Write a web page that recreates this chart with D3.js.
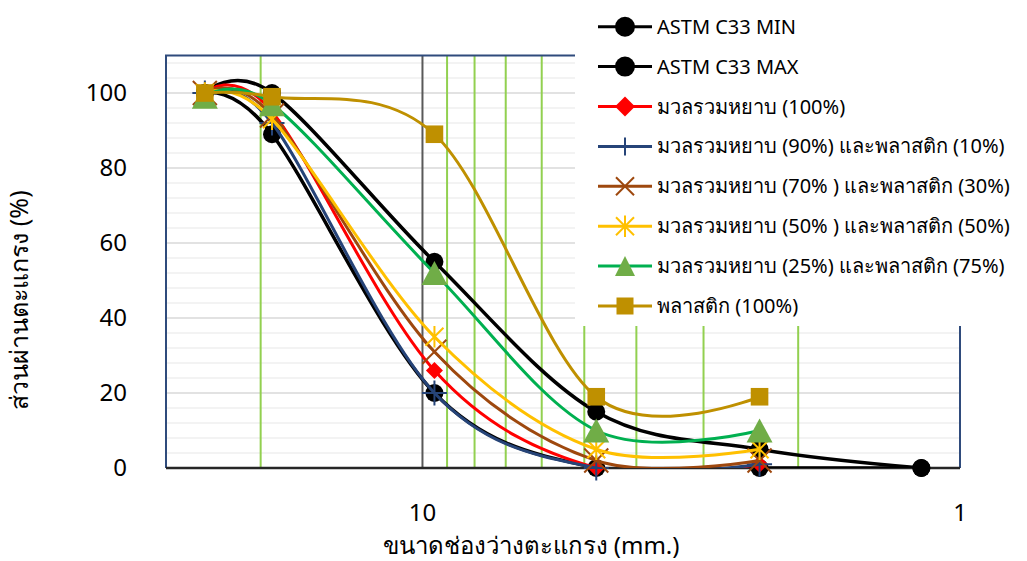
<!DOCTYPE html>
<html>
<head>
<meta charset="utf-8">
<script src="https://cdn.jsdelivr.net/npm/d3@7"></script>
<style>
  html, body { margin: 0; padding: 0; background: #fff; }
  svg { display: block; font-family: "Noto Sans", "DejaVu Sans", sans-serif; }
</style>
</head>
<body>
<svg id="chart" width="1027" height="561"></svg>
<script>
// Sieve openings (mm) and percent passing for each grading curve
const sieveSizes = [25.4, 19.05, 9.5, 4.75, 2.36, 1.18];
const seriesNames = [
  "ASTM C33 MIN",
  "ASTM C33 MAX",
  "มวลรวมหยาบ (100%)",
  "มวลรวมหยาบ (90%) และพลาสติก (10%)",
  "มวลรวมหยาบ (70% ) และพลาสติก (30%)",
  "มวลรวมหยาบ (50% ) และพลาสติก (50%)",
  "มวลรวมหยาบ (25%) และพลาสติก (75%)",
  "พลาสติก (100%)"
];
const astmMin    = [100, 89, 20, 0, 0, 0];
const astmMax    = [100, 100, 55, 15, 5, 0];
const coarse100  = [100, 95, 26, 0, 1];
const coarse90   = [100, 92, 20, 0, 1];
const coarse70   = [100, 94, 31, 2, 2];
const coarse50   = [100, 93, 35, 5, 5];
const coarse25   = [99, 97, 52, 10, 10];
const plastic100 = [100, 99, 89, 19, 19];

const yTickLabels = [0, 20, 40, 60, 80, 100];
const xTickLabels = [10, 1];
const xMinorGrid = [20, 9, 8, 7, 6, 5, 4, 3, 2];
const xMajorGrid = [10];

const seriesValues = [astmMin, astmMax, coarse100, coarse90, coarse70, coarse50, coarse25, plastic100];
const styles = [
  { line: "#000000", fill: "#000000", marker: "circle",   width: 3.5 },
  { line: "#000000", fill: "#000000", marker: "circle",   width: 3.5 },
  { line: "#FF0000", fill: "#FF0000", marker: "diamond",  width: 3 },
  { line: "#264478", fill: "#264478", marker: "plus",     width: 3 },
  { line: "#9E480E", fill: "#9E480E", marker: "x",        width: 3 },
  { line: "#FFC000", fill: "#FFC000", marker: "star",     width: 3 },
  { line: "#00B050", fill: "#70AD47", marker: "triangle", width: 3 },
  { line: "#BF9000", fill: "#BF9000", marker: "square",   width: 3 }
];

const svg = d3.select("#chart");
svg.append("rect").attr("width", 1027).attr("height", 561).attr("fill", "#fff");

const plotLeft = 166, plotRight = 960, plotBottom = 468;
const x = d3.scaleLog().domain([30, 1]).range([plotLeft, plotRight]);
const y = d3.scaleLinear().domain([0, 110]).range([plotBottom, 55.5]);
const plotTop = y(110);

// lines are clipped to the plot area, markers are not
svg.append("defs").append("clipPath").attr("id", "plotClip")
  .append("rect").attr("x", plotLeft).attr("y", plotTop)
  .attr("width", plotRight - plotLeft).attr("height", plotBottom - plotTop);

// horizontal grid: minor every 4, major every 20
const g = svg.append("g");
g.selectAll("line.hmin").data(d3.range(4, 110, 4).filter(v => v % 20 !== 0)).join("line")
  .attr("x1", plotLeft).attr("x2", plotRight).attr("y1", d => y(d)).attr("y2", d => y(d))
  .attr("stroke", "#EFEFEF").attr("stroke-width", 1.5);
g.selectAll("line.hmaj").data(d3.range(20, 110, 20)).join("line")
  .attr("x1", plotLeft).attr("x2", plotRight).attr("y1", d => y(d)).attr("y2", d => y(d))
  .attr("stroke", "#D9D9D9").attr("stroke-width", 1.5);

// vertical grid on the log axis
g.selectAll("line.vmin").data(xMinorGrid).join("line")
  .attr("x1", d => x(d)).attr("x2", d => x(d)).attr("y1", plotTop).attr("y2", plotBottom)
  .attr("stroke", "#92D050").attr("stroke-width", 2);
g.selectAll("line.vmaj").data(xMajorGrid).join("line")
  .attr("x1", d => x(d)).attr("x2", d => x(d)).attr("y1", plotTop).attr("y2", plotBottom)
  .attr("stroke", "#595959").attr("stroke-width", 2);

// plot frame
svg.append("path")
  .attr("d", `M${plotLeft},${plotBottom}V${plotTop}H${plotRight}V${plotBottom}`)
  .attr("fill", "none").attr("stroke", "#2F4B7C").attr("stroke-width", 2);
svg.append("line").attr("x1", plotLeft).attr("x2", plotRight).attr("y1", plotBottom).attr("y2", plotBottom)
  .attr("stroke", "#262626").attr("stroke-width", 2.5);

// axis labels
svg.append("g").selectAll("text").data(yTickLabels).join("text")
  .attr("x", 127).attr("y", d => y(d)).attr("dy", "0.35em")
  .attr("text-anchor", "end").attr("font-size", 24).attr("fill", "#000")
  .text(d => d);
svg.append("g").selectAll("text").data(xTickLabels).join("text")
  .attr("x", d => x(d)).attr("y", 513).attr("dy", "0.35em")
  .attr("text-anchor", "middle").attr("font-size", 24).attr("fill", "#000")
  .text(d => d);
svg.append("text").attr("x", 531).attr("y", 546).attr("dy", "0.35em")
  .attr("text-anchor", "middle").attr("font-size", 24).attr("fill", "#000")
  .text("ขนาดช่องว่างตะแกรง (mm.)");
svg.append("text").attr("transform", "translate(19,300) rotate(-90)").attr("dy", "0.35em")
  .attr("text-anchor", "middle").attr("font-size", 25).attr("fill", "#000")
  .text("ส่วนผ่านตะแกรง (%)");

// marker drawing
function drawMarker(sel, type, st, big) {
  if (type === "circle") {
    sel.append("circle").attr("r", big ? 9 : 10).attr("fill", st.fill);
  } else if (type === "diamond") {
    const h = big ? 8.5 : 10;
    sel.append("path").attr("d", `M0,${-h}L${h},0L0,${h}L${-h},0Z`).attr("fill", st.fill);
  } else if (type === "square") {
    const h = big ? 8.8 : 8.5;
    sel.append("rect").attr("x", -h).attr("y", -h).attr("width", 2 * h).attr("height", 2 * h).attr("fill", st.fill);
  } else if (type === "triangle") {
    const w = big ? 13 : 10, h = big ? 12 : 10;
    sel.append("path").attr("d", `M0,${-h}L${w},${h}L${-w},${h}Z`).attr("fill", st.fill);
  } else if (type === "plus") {
    const h = big ? 12.5 : 9;
    sel.append("path").attr("d", `M${-h},0H${h}M0,${-h}V${h}`)
      .attr("stroke", st.fill).attr("stroke-width", 2).attr("fill", "none");
  } else if (type === "x") {
    const h = big ? 12 : 9;
    sel.append("path").attr("d", `M${-h},${-h}L${h},${h}M${-h},${h}L${h},${-h}`)
      .attr("stroke", st.fill).attr("stroke-width", 2).attr("fill", "none");
  } else if (type === "star") {
    const h = 9;
    sel.append("path").attr("d", `M${-h},${-h}L${h},${h}M${-h},${h}L${h},${-h}M0,${-h * 1.2}V${h * 1.2}`)
      .attr("stroke", st.fill).attr("stroke-width", 2).attr("fill", "none");
  }
}

// smoothed grading curves
const line = d3.line().x(d => x(d[0])).y(d => y(d[1])).curve(d3.curveCatmullRom.alpha(0));
seriesValues.forEach((vals, i) => {
  const pts = vals.map((v, j) => [sieveSizes[j], v]);
  const st = styles[i];
  const sg = svg.append("g");
  sg.append("path").attr("d", line(pts)).attr("fill", "none").attr("clip-path", "url(#plotClip)")
    .attr("stroke", st.line).attr("stroke-width", st.width).attr("stroke-linejoin", "round");
  pts.forEach(p => {
    const m = sg.append("g").attr("transform", `translate(${x(p[0])},${y(p[1])})`);
    drawMarker(m, st.marker, st, true);
  });
});

// legend
const lg = svg.append("g");
lg.append("rect").attr("x", 575).attr("y", 0).attr("width", 452).attr("height", 326).attr("fill", "#fff");
seriesNames.forEach((name, i) => {
  const cy = 26.7 + i * 39.9;
  const st = styles[i];
  const row = lg.append("g");
  row.append("line").attr("x1", 598).attr("x2", 652).attr("y1", cy).attr("y2", cy)
    .attr("stroke", st.line).attr("stroke-width", 3);
  const m = row.append("g").attr("transform", `translate(625,${cy})`);
  drawMarker(m, st.marker, st, false);
  row.append("text").attr("x", 657).attr("y", cy).attr("dy", "0.35em")
    .attr("font-size", 20).attr("fill", "#000").text(name);
});
</script>
</body>
</html>
